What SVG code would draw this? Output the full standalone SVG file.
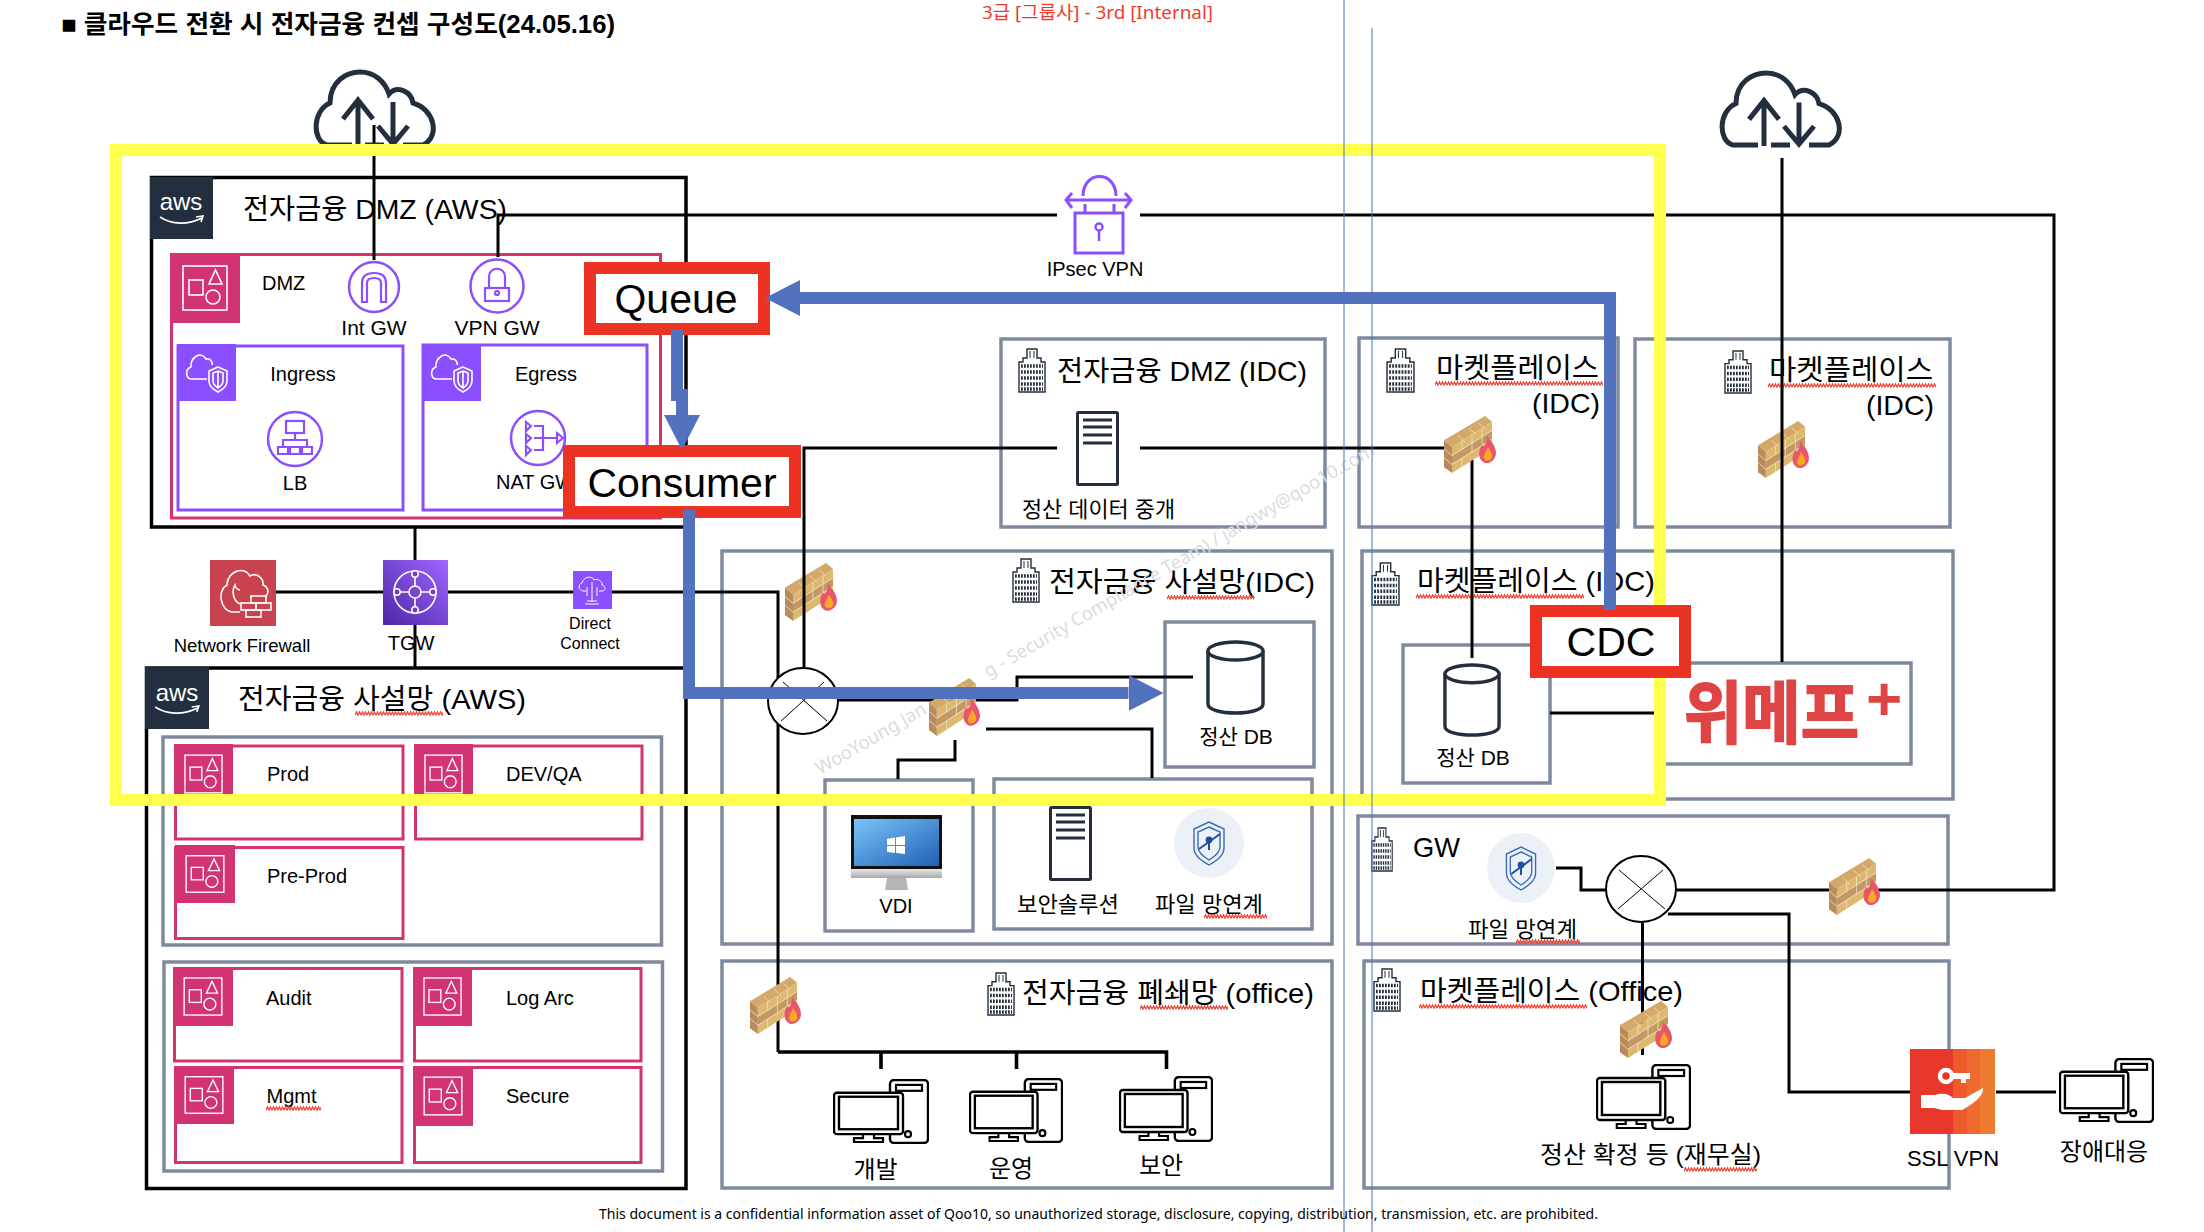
<svg xmlns="http://www.w3.org/2000/svg" width="2204" height="1232" viewBox="0 0 2204 1232">
<style>
text{font-family:"Liberation Sans","Noto Sans CJK KR",sans-serif;fill:#000}
.f27{font-size:28.5px}.f20{font-size:20px}.f21{font-size:21px}.f22{font-size:22px}.f24{font-size:24px}.f18{font-size:18.5px}.f16{font-size:16px}.f40{font-size:41px}
.m{text-anchor:middle}
.gray{fill:none;stroke:#7F8A9E;stroke-width:3.5}
.blk{fill:none;stroke:#000;stroke-width:3.5}
.pink{fill:none;stroke:#D13373;stroke-width:3}
.pur{fill:none;stroke:#8C4FFF;stroke-width:3}
.circ{fill:#fff;stroke:#8C4FFF;stroke-width:2.5}
.ic{fill:none;stroke:#8C4FFF;stroke-width:2.2}
.wht{fill:none;stroke:#fff;stroke-width:1.6}
.con{fill:none;stroke:#000;stroke-width:3}
.red{fill:#fff;stroke:#EA3323;stroke-width:12}
.blue{fill:none;stroke:#5272BD;stroke-width:12;marker-end:url(#head)}
.thin{stroke:#4472C4;stroke-width:1}
.dark{fill:none;stroke:#232F3E}
.sq{fill:url(#wav)}
</style>
<defs>
<pattern id="wav" width="6" height="5" patternUnits="userSpaceOnUse"><path d="M0,4.200 L1.500,.8 L3,4.200 L4.500,.8 L6,4.200" fill="none" stroke="#F04030" stroke-width="1.200"/></pattern>
<marker id="head" markerUnits="userSpaceOnUse" markerWidth="35" markerHeight="36" refX="0" refY="18" orient="auto"><path d="M0,0 L35,18 L0,36 Z" fill="#5272BD"/></marker>
<linearGradient id="tgw" x1="0" y1="1" x2="1" y2="0"><stop offset="0" stop-color="#4D27A8"/><stop offset="1" stop-color="#A166FF"/></linearGradient>
<linearGradient id="scr" x1="0" y1="0" x2="1" y2="1"><stop offset="0" stop-color="#7CC4F8"/><stop offset="1" stop-color="#1F5FB5"/></linearGradient>
<linearGradient id="sil" x1="0" y1="0" x2="0" y2="1"><stop offset="0" stop-color="#E8E8E8"/><stop offset="1" stop-color="#A8A8A8"/></linearGradient>
<symbol id="acc" viewBox="0 0 70 70" preserveAspectRatio="none"><rect width="70" height="70" fill="#D13373"/><rect x="13" y="13" width="44" height="44" class="wht"/><rect x="19" y="27" width="14" height="15" class="wht"/><path d="M45.5,17 L52,31 H39 Z" class="wht"/><circle cx="43" cy="44" r="7" class="wht"/></symbol>
<symbol id="vpc" viewBox="0 0 59 57" preserveAspectRatio="none"><rect width="59" height="57" fill="#8C4FFF"/><path d="M30,35 H15 C8,35 8,25 14,23 C13,14 24,6 29,15 C33,14 36,18 35,21" class="wht"/><path d="M41,23 L50,27 V37 C50,43 45,46 41,48 C37,46 32,43 32,37 V27 Z M41,27 L46,29 V37 C46,40 44,42 41,44 C38,42 36,40 36,37 V29 Z M41,27 V44" class="wht"/></symbol>
<symbol id="server" viewBox="0 0 43 75" preserveAspectRatio="none"><rect x="1.5" y="1.5" width="40" height="72" rx="1" fill="#fff" stroke="#232F3E" stroke-width="3"/><path d="M7,9 H36 M7,16 H36 M7,24 H36 M7,32 H36" stroke="#232F3E" stroke-width="3"/></symbol>
<symbol id="cyl" viewBox="0 0 60 75" preserveAspectRatio="none"><path d="M2,11 V64 C2,76 58,76 58,64 V11" fill="#fff" stroke="#232F3E" stroke-width="3.5"/><ellipse cx="30" cy="11" rx="28" ry="9" fill="#fff" stroke="#232F3E" stroke-width="3.5"/></symbol>
<symbol id="bld" viewBox="0 0 28 45" preserveAspectRatio="none"><path d="M1,44 V14 H5 V10 H9 V1 H19 V10 H23 V14 H27 V44 Z" fill="#fff" stroke="#232F3E" stroke-width="1.4"/><path d="M12,3 V10 M16,3 V10" stroke="#232F3E" stroke-width="1"/><path d="M3,18 H25 M3,24 H25 M3,30 H25 M3,36 H25 M3,41 H25" stroke="#232F3E" stroke-width="3.6" stroke-dasharray="1.8 1.2"/></symbol>
<symbol id="fw" viewBox="0 0 52 60" preserveAspectRatio="none">
<path d="M0,25 L41,0 L48,6 L8,32 Z" fill="#D3A868"/>
<path d="M0,25 L8,32 V59 L0,53 Z" fill="#B98A5E"/>
<path d="M8,32 L48,6 V15 L8,41 Z" fill="#DDB96F"/><path d="M8,41 L48,15 V24 L8,50 Z" fill="#C49763"/><path d="M8,50 L48,24 V33 L8,59 Z" fill="#DDB96F"/>
<path d="M0,34 L8,41 L48,15 M0,43 L8,50 L48,24 M18,26 V35 M28,19 V38 M38,13 V22 M18,44 V53 M38,31 V22 M14,20 L21,27 M25,13 L32,19 M34,7 L41,13" fill="none" stroke="#F1E6C6" stroke-width=".8"/>
<path d="M43,21 C47,26 52,31 52,39 C51,47 44,50 40,48 C34,45 34,36 38,30 C39,32 40,32 41,30 C42,28 43,25 43,21 Z" fill="#E8566B"/>
<path d="M44,32 C46,36 49,39 48,43 C47,47 41,47 40,44 C39,41 42,37 44,32 Z" fill="#F9A825"/></symbol>
<symbol id="pc" viewBox="0 0 96 66" preserveAspectRatio="none"><rect x="57" y="1" width="38" height="64" rx="4" fill="#fff" stroke="#000" stroke-width="2.4"/><rect x="63" y="6" width="26" height="6" fill="#fff" stroke="#000" stroke-width="2.2"/><circle cx="75" cy="56" r="3" fill="#fff" stroke="#000" stroke-width="2.2"/><path d="M30,56 V60 H21 V64 H50 V60 H41 V56" fill="#fff" stroke="#000" stroke-width="2.2"/><rect x="1" y="14" width="69" height="42" rx="3" fill="#fff" stroke="#000" stroke-width="2.4"/><rect x="6" y="18" width="59" height="33" fill="#fff" stroke="#000" stroke-width="2.4"/></symbol>
<symbol id="cld" viewBox="0 0 124 79" preserveAspectRatio="none"><path d="M39,76 H14 C-1,72 -1,42 17,34 C17,12 34,3 47,3 C62,3 72,13 76,25 C84,16 98,22 100,34 C121,40 128,67 110,76 H90 M71,76 H52" class="dark" stroke-width="5"/><path d="M45,77 V32 M30,50 L45,31 L60,50 M80,33 V74 M65,57 L80,75 L95,57" class="dark" stroke-width="5"/></symbol>
<symbol id="shd" viewBox="0 0 70 70" preserveAspectRatio="none"><ellipse cx="35" cy="35" rx="35" ry="35" fill="#ECF1F8"/><path d="M35,14 L50,21 V40 C50,48 42,53 35,57 C28,53 20,48 20,40 V21 Z M35,19 L46,24 V39 C46,45 40,49 35,52 C30,49 24,45 24,39 V24 Z" fill="none" stroke="#3B6CB4" stroke-width="1.4"/><circle cx="35" cy="32" r="3.4" fill="#1F4E9E"/><path d="M35,33 V42 M25,41 L46,26" stroke="#1F4E9E" stroke-width="2"/></symbol>
<symbol id="awslogo" viewBox="0 0 63 62" preserveAspectRatio="none"><rect width="63" height="62" fill="#232F3E"/><path d="M10,40 C22,48 38,48 52,41 M46,40 L53,39 L51,45" fill="none" stroke="#fff" stroke-width="1.6"/></symbol>
</defs>

<g id="title">
<text x="61" y="33" font-size="25" font-weight="700" textLength="554" lengthAdjust="spacingAndGlyphs">■ 클라우드 전환 시 전자금융 컨셉 구성도(24.05.16)</text>
</g>
<g id="classification"><text x="982" y="19" font-size="18" textLength="231" lengthAdjust="spacingAndGlyphs" style="font-family:'Noto Sans','Noto Sans CJK KR',sans-serif;fill:#F03A2E">3급 [그룹사] - 3rd [Internal]</text></g>

<g id="dmz-aws">
<rect x="151.500" y="177.500" width="534.500" height="349.500" class="blk"/>
<use href="#awslogo" x="150" y="177" width="63" height="62"/>
<text x="181" y="210" font-size="24" class="m" style="fill:#fff">aws</text>
<text x="243" y="219" class="f27" textLength="264" lengthAdjust="spacingAndGlyphs">전자금융 DMZ (AWS)</text>
<rect x="171.500" y="254.500" width="489" height="263.500" class="pink"/>
<use href="#acc" x="170" y="253" width="70" height="70"/>
<text x="262" y="290" class="f20">DMZ</text>
<text x="374" y="335" class="f21 m">Int GW</text>
<text x="497" y="335" class="f21 m">VPN GW</text>
<rect x="178" y="346" width="225" height="164" class="pur"/>
<use href="#vpc" x="177" y="344" width="59" height="57"/>
<text x="303" y="381" class="f20 m">Ingress</text>
<text x="295" y="490" class="f20 m">LB</text>
<rect x="423" y="345" width="224" height="165" class="pur"/>
<use href="#vpc" x="422" y="344" width="59" height="57"/>
<text x="546" y="381" class="f20 m">Egress</text>
<text x="496" y="489" class="f20">NAT GW</text>
</g>

<g id="private-aws">
<rect x="146.500" y="668" width="539.500" height="520.500" class="blk"/>
<use href="#awslogo" x="145" y="667" width="64" height="62"/>
<text x="177" y="701" font-size="24" class="m" style="fill:#fff">aws</text>
<text x="238" y="709" class="f27" textLength="288" lengthAdjust="spacingAndGlyphs">전자금융 사설망 (AWS)</text>
<rect transform="translate(355,711)" width="88" height="5" class="sq"/>
<rect x="163" y="737" width="498.500" height="208" class="gray"/>
<rect x="164" y="962" width="498.500" height="209" class="gray"/>
</g>
<g id="acct-prod"><rect x="175.500" y="746" width="227.500" height="93" class="pink"/><use href="#acc" x="174" y="744" width="59" height="60"/><text x="267" y="781" class="f20">Prod</text></g>
<g id="acct-devqa"><rect x="415.500" y="746" width="226.500" height="93" class="pink"/><use href="#acc" x="414" y="744" width="59" height="60"/><text x="506" y="781" class="f20">DEV/QA</text></g>
<g id="acct-preprod"><rect x="175.500" y="847.500" width="227.500" height="91" class="pink"/><use href="#acc" x="175" y="845" width="60" height="58"/><text x="267" y="883" class="f20">Pre-Prod</text></g>
<g id="acct-audit"><rect x="174.500" y="968.500" width="227.500" height="92.500" class="pink"/><use href="#acc" x="173" y="967" width="60" height="59"/><text x="266" y="1005" class="f20">Audit</text></g>
<g id="acct-logarc"><rect x="414.500" y="968.500" width="226.500" height="92.500" class="pink"/><use href="#acc" x="413" y="967" width="59" height="59"/><text x="506" y="1005" class="f20">Log Arc</text></g>
<g id="acct-mgmt"><rect x="175.500" y="1067.500" width="226.500" height="95" class="pink"/><use href="#acc" x="174" y="1066" width="60" height="58"/><text x="266.500" y="1103" class="f20">Mgmt</text><rect transform="translate(266,1106)" width="55" height="5" class="sq"/></g>
<g id="acct-secure"><rect x="414.500" y="1067.500" width="226.500" height="95" class="pink"/><use href="#acc" x="413" y="1066" width="60" height="60"/><text x="506" y="1103" class="f20">Secure</text></g>

<g id="dmz-idc">
<rect x="1001" y="339" width="324" height="188" class="gray"/>
<use href="#bld" x="1018" y="348" width="28" height="45"/>
<text x="1057" y="381" class="f27" textLength="250" lengthAdjust="spacingAndGlyphs">전자금융 DMZ (IDC)</text>
<text x="1022" y="517" class="f22" textLength="153" lengthAdjust="spacingAndGlyphs">정산 데이터 중개</text>
</g>
<g id="private-idc">
<rect x="722" y="551" width="610" height="393" class="gray"/>
<use href="#bld" x="1012" y="558" width="28" height="45"/>
<text x="1049" y="592" class="f27" textLength="266" lengthAdjust="spacingAndGlyphs">전자금융 사설망(IDC)</text>
<rect transform="translate(1167,595)" width="87" height="5" class="sq"/>
<rect x="1165" y="622" width="149" height="145" class="gray"/>
<text x="1236" y="744" class="f21 m">정산 DB</text>
<rect x="825" y="780" width="148" height="151" class="gray"/>
<text x="896" y="913" class="f20 m">VDI</text>
<rect x="994" y="779" width="318" height="150" class="gray"/>
<text x="1017" y="912" class="f22" textLength="102" lengthAdjust="spacingAndGlyphs">보안솔루션</text>
<text x="1155" y="912" class="f22" textLength="108" lengthAdjust="spacingAndGlyphs">파일 망연계</text>
<rect transform="translate(1204,914)" width="63" height="5" class="sq"/>
</g>
<g id="closed-office">
<rect x="722" y="961" width="610" height="227" class="gray"/>
<use href="#bld" x="987" y="972" width="28" height="44"/>
<text x="1022" y="1003" class="f27" textLength="292" lengthAdjust="spacingAndGlyphs">전자금융 폐쇄망 (office)</text>
<rect transform="translate(1140,1005)" width="88" height="5" class="sq"/>
<text x="875.500" y="1178" class="f24 m">개발</text>
<text x="1011" y="1177" class="f24 m">운영</text>
<text x="1161" y="1174" class="f24 m">보안</text>
</g>
<g id="mp-idc-1">
<rect x="1359" y="338" width="259" height="189" class="gray"/>
<use href="#bld" x="1386" y="348" width="29" height="45"/>
<text x="1436" y="378" class="f27" textLength="163" lengthAdjust="spacingAndGlyphs">마켓플레이스</text>
<rect transform="translate(1435,381)" width="168" height="5" class="sq"/>
<text x="1600" y="413" class="f27" text-anchor="end">(IDC)</text>
</g>
<g id="mp-idc-2">
<rect x="1635" y="339" width="315" height="188" class="gray"/>
<use href="#bld" x="1724" y="350" width="28" height="44"/>
<text x="1769" y="380" class="f27" textLength="164" lengthAdjust="spacingAndGlyphs">마켓플레이스</text>
<rect transform="translate(1768,383)" width="168" height="5" class="sq"/>
<text x="1934" y="415" class="f27" text-anchor="end">(IDC)</text>
</g>
<g id="mp-idc-main">
<rect x="1362" y="551" width="591" height="248" class="gray"/>
<use href="#bld" x="1371" y="562" width="29" height="44"/>
<text x="1417" y="591" class="f27" textLength="238" lengthAdjust="spacingAndGlyphs">마켓플레이스 (IDC)</text>
<rect transform="translate(1416,594)" width="168" height="5" class="sq"/>
<rect x="1403" y="645" width="147" height="138" class="gray"/>
<text x="1473" y="765" class="f21 m">정산 DB</text>
</g>
<g id="wemakeprice">
<rect x="1660" y="663" width="251" height="101" class="gray" style="fill:#fff"/>
<text x="1684" y="738" font-size="68" font-weight="700" textLength="175" lengthAdjust="spacingAndGlyphs" style="fill:#DE4444;stroke:#DE4444;stroke-width:1.800">위메프</text>
<text x="1884" y="720" font-size="62" font-weight="700" class="m" style="fill:#DE4444">+</text>
</g>
<g id="gw">
<rect x="1358" y="816" width="590" height="128" class="gray"/>
<use href="#bld" x="1371" y="827" width="22" height="45"/>
<text x="1413" y="857" class="f27" textLength="47" lengthAdjust="spacingAndGlyphs">GW</text>
<text x="1468" y="937" class="f22" textLength="109" lengthAdjust="spacingAndGlyphs">파일 망연계</text>
<rect transform="translate(1516,939)" width="64" height="5" class="sq"/>
</g>
<g id="mp-office">
<rect x="1364" y="961" width="585" height="227" class="gray"/>
<use href="#bld" x="1373" y="968" width="28" height="44"/>
<text x="1420" y="1001" class="f27" textLength="263" lengthAdjust="spacingAndGlyphs">마켓플레이스 (Office)</text>
<rect transform="translate(1419,1004)" width="168" height="5" class="sq"/>
<text x="1540" y="1163" class="f24" textLength="221" lengthAdjust="spacingAndGlyphs">정산 확정 등 (재무실)</text>
<rect transform="translate(1684,1167)" width="73" height="5" class="sq"/>
</g>

<g id="watermark"><text transform="translate(820,775) rotate(-30)" font-size="18.3" style="font-family:'Noto Sans',sans-serif;fill:#D9DCE1">WooYoung Jan<tspan dx="70">g - Security Compliance Team) / jangwy@qoo10.com</tspan></text></g>

<use id="fw-priv" href="#fw" x="785" y="563" width="52" height="59"/>
<use id="fw-mp2" href="#fw" x="1758" y="421" width="51" height="58"/>

<g id="connectors">
<path class="con" d="M374,125 V260"/>
<path class="con" d="M498,257 V215 H1057 M1140,215 H2054 V890 H1677"/>
<path class="con" d="M1782,158 V662"/>
<path class="con" d="M415,527 V667"/>
<path class="con" d="M276,592 H383 M448,592 H573 M612,592 H778 V1052"/>
<path class="con" d="M804,667 V448 H1057 M1140,448 H1445"/>
<path class="con" d="M1472,460 V658"/>
<path class="con" d="M838,700 H1017 V677 H1193"/>
<path class="con" d="M955,740 V760 H898 V779"/>
<path class="con" d="M986,729 H1152 V778"/>
<path class="con" d="M778,1052 H1166.500 V1069 M881,1052 V1069 M1016.500,1052 V1069" style="stroke-width:3.600"/>
<path class="con" d="M1550,713 H1660"/>
<path class="con" d="M1556,868 H1581 V890 H1606"/>
<path class="con" d="M1668,914 H1789 V1092 H1910"/>
<path class="con" d="M1642.500,923 V1055"/>
<path class="con" d="M1996,1092 H2056"/>
</g>

<use id="cloud-1" href="#cld" x="313" y="69" width="124" height="79"/>
<use id="cloud-2" href="#cld" x="1719" y="70" width="124" height="78"/>

<g id="ipsec-vpn">
<path class="ic" style="stroke-width:3" d="M1083,196 C1083,170 1116,170 1116,196 M1067,200 H1130 M1072,193 L1066,200 L1072,208 M1125,193 L1131,200 L1125,208 M1085,204 V213 M1114,204 V213"/>
<rect x="1075" y="213" width="48" height="40" class="ic" style="stroke-width:3"/>
<circle cx="1099" cy="227" r="3.500" class="ic" style="stroke-width:2.500"/><path d="M1099,231 V241" class="ic" style="stroke-width:2.500"/>
<text x="1095" y="276" class="f20 m">IPsec VPN</text>
</g>

<g id="int-gw"><circle cx="374" cy="287" r="25" class="circ"/><path class="ic" d="M362,302 V283 Q362,273 374,273 Q386,273 386,283 V302 H381 V283 Q381,278 374,278 Q367,278 367,283 V302 Z"/></g>
<g id="vpn-gw"><circle cx="497" cy="286" r="26.500" class="circ"/><rect x="485" y="288" width="24" height="13" class="ic"/><path class="ic" d="M489,288 V277 C489,266 505,266 505,277 V288"/><circle cx="497" cy="293" r="2" class="ic"/></g>
<g id="lb"><circle cx="295" cy="439" r="27" class="circ"/><rect x="286" y="421" width="18" height="12" class="ic"/><path class="ic" d="M295,433 V440 M283,447 V440 H307 V447"/><path class="ic" d="M278,447 H288 V454 H278 Z M290,447 H300 V454 H290 Z M302,447 H312 V454 H302 Z"/></g>
<g id="nat"><circle cx="538" cy="438" r="27" class="circ"/><path class="ic" d="M526,422 V431 L531,426 Z M526,434 V443 L531,438 Z M526,446 V455 L531,450 Z M534,426 H543 V450 H534 M534,438 H557 M557,433 V443 L563,438 Z"/></g>

<g id="network-firewall">
<rect x="210" y="560" width="66" height="66" fill="#C9424F"/>
<path class="wht" d="M240,612 H232 C220,610 217,590 227,585 C228,570 245,566 250,576 C256,572 264,578 263,585 C267,586 270,592 266,596"/>
<path class="wht" d="M240,604 C232,600 232,590 235,585 C236,590 240,590 240,590"/>
<rect x="251" y="596" width="15" height="7" class="wht"/><rect x="241" y="603" width="15" height="7" class="wht"/><rect x="256" y="603" width="15" height="7" class="wht"/><rect x="246" y="610" width="15" height="7" class="wht"/>
<text x="242" y="652" class="f18 m">Network Firewall</text>
</g>
<g id="tgw-node">
<rect x="383" y="560" width="65" height="65" fill="url(#tgw)"/>
<circle cx="415" cy="592" r="21" class="wht"/><circle cx="415" cy="592" r="6" class="wht"/>
<path class="wht" d="M415,574 V586 M415,598 V610 M397,592 H409 M421,592 H433"/>
<circle cx="415" cy="574" r="3.200" fill="#6B3FCC" stroke="#fff" stroke-width="1.500"/><circle cx="415" cy="610" r="3.200" fill="#6B3FCC" stroke="#fff" stroke-width="1.500"/><circle cx="397" cy="592" r="3.200" fill="#6B3FCC" stroke="#fff" stroke-width="1.500"/><circle cx="433" cy="592" r="3.200" fill="#6B3FCC" stroke="#fff" stroke-width="1.500"/>
<text x="411" y="650" class="f20 m">TGW</text>
</g>
<g id="direct-connect">
<rect x="573" y="571" width="39" height="38" fill="#8C4FFF"/>
<path d="M586,591 H583 C578,590 578,584 582,583 C583,577 592,575 594,580 C598,578 603,582 602,585 C606,586 606,591 602,591 H599" fill="none" stroke="#fff" stroke-width="1"/>
<path d="M592,582 V602 M587,587 V596 M597,587 V596 M587,601 H597 M585,604 H599" fill="none" stroke="#fff" stroke-width="1"/>
<text x="590" y="629" class="f16 m">Direct</text>
<text x="590" y="649" class="f16 m">Connect</text>
</g>

<use id="server-relay" href="#server" x="1076" y="411" width="43" height="75"/>
<use id="fw-mp1" href="#fw" x="1444" y="416" width="52" height="58"/>
<g id="hub-1"><ellipse cx="803" cy="701" rx="35" ry="33" fill="#fff" stroke="#000" stroke-width="2"/><path d="M783,682 L827,721 M824,682 L781,721" stroke="#000" stroke-width="1"/></g>
<use id="fw-priv-2" href="#fw" x="929" y="678" width="51" height="59"/>
<use id="db-fin" href="#cyl" x="1206" y="640" width="59" height="75"/>
<g id="vdi">
<rect x="851" y="815" width="91" height="54" fill="#111"/>
<rect x="854" y="819" width="85" height="47" fill="url(#scr)"/>
<rect x="851" y="869" width="91" height="9" fill="url(#sil)"/>
<path d="M887,878 H906 L908,890 H885 Z" fill="#B5B5B5"/>
<path d="M887,839 L895,837.500 V845 H887 Z M896,837.500 L905,836 V845 H896 Z M887,846 H895 V853 L887,852 Z M896,846 H905 V854 L896,853 Z" fill="#fff"/>
</g>
<use id="server-sec" href="#server" x="1049" y="806" width="43" height="75"/>
<use id="shield-1" href="#shd" x="1174" y="808" width="70" height="70"/>
<use id="fw-closed" href="#fw" x="750" y="977" width="51" height="58"/>
<use id="pc-dev" href="#pc" x="833" y="1079" width="96" height="65"/>
<use id="pc-ops" href="#pc" x="969" y="1078" width="94" height="65"/>
<use id="pc-sec" href="#pc" x="1119" y="1076" width="94" height="66"/>
<use id="db-mp" href="#cyl" x="1443" y="663" width="58" height="74"/>
<use id="shield-2" href="#shd" x="1487" y="833" width="68" height="70"/>
<g id="hub-2"><ellipse cx="1641" cy="889" rx="35" ry="33" fill="#fff" stroke="#000" stroke-width="2"/><path d="M1619,870 L1665,909 M1663,870 L1618,909" stroke="#000" stroke-width="1"/></g>
<use id="fw-gw" href="#fw" x="1829" y="858" width="51" height="58"/>
<use id="fw-office" href="#fw" x="1620" y="1001" width="52" height="58"/>
<use id="pc-finance" href="#pc" x="1596" y="1064" width="95" height="66"/>
<g id="ssl-vpn">
<rect x="1910" y="1049" width="43" height="85" fill="#E8372B"/><rect x="1953" y="1049" width="14" height="85" fill="#EC5A2C"/><rect x="1967" y="1049" width="13" height="85" fill="#EE6A2E"/><rect x="1980" y="1049" width="15" height="85" fill="#EF7B30"/>
<circle cx="1946" cy="1076" r="6" fill="none" stroke="#fff" stroke-width="4.500"/><path d="M1952,1073 H1970 V1079 H1966 V1083 H1961 V1079 H1952 Z" fill="#fff"/>
<path d="M1921,1095 H1935 C1944,1092 1950,1095 1953,1098 H1965 L1983,1088 C1984,1096 1972,1105 1962,1110 H1942 L1934,1108 H1921 Z" fill="#fff"/>
<text x="1953" y="1166" class="f22 m">SSL VPN</text>
</g>
<g id="pc-support"><use href="#pc" x="2059" y="1058" width="95" height="65"/><text x="2104" y="1160" class="f24 m">장애대응</text></g>

<rect id="scope" x="116" y="150" width="1544" height="650" fill="none" stroke="#FFFF4D" stroke-width="12"/>

<g id="queue"><rect x="590" y="268" width="174" height="61" class="red"/><text x="676" y="313" class="f40 m">Queue</text></g>
<g id="consumer"><rect x="569" y="451" width="226" height="61" class="red"/><text x="682" y="497" class="f40 m">Consumer</text></g>
<g id="cdc"><rect x="1536" y="611" width="149" height="61" class="red"/><text x="1611" y="656" class="f40 m">CDC</text></g>

<g id="flow-arrows">
<path class="blue" d="M1610,610 V298 H800"/>
<path class="blue" d="M677,329 V395 H682 V415"/>
<path class="blue" d="M689,510 V693 H1128.500"/>
</g>

<g id="footer"><text x="599" y="1219" font-size="14" textLength="999" style="font-family:'Noto Sans',sans-serif">This document is a confidential information asset of Qoo10, so unauthorized storage, disclosure, copying, distribution, transmission, etc. are prohibited.</text></g>

<g id="guides"><path class="thin" d="M1344,0 V1232 M1372,28 V1232"/></g>
</svg>
